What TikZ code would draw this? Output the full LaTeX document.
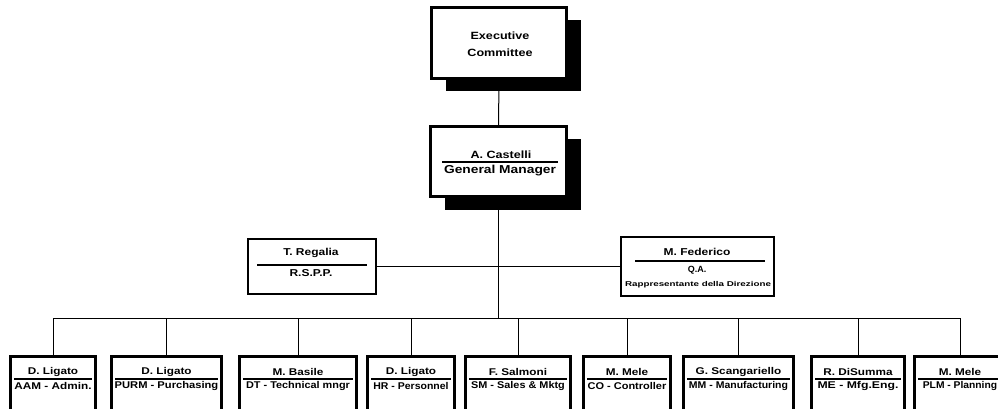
\documentclass[tikz,border=0pt]{standalone}
\usepackage{fontspec}
\setmainfont{Liberation Sans}
\usepackage{graphicx}
\usetikzlibrary{calc,shadows}
\newcommand\sx[2][1.2]{\scalebox{#1}[1]{#2}}
\newcommand\fs[1]{\fontsize{#1}{#1}\selectfont}
\tikzset{
  conn/.style={line width=1pt},
  div/.style={line width=1.2pt},
  lbl/.style={inner sep=0pt, font=\bfseries},
  shadowbox/.style={draw, fill=white, line width=3pt, inner sep=0pt,
    drop shadow={shadow xshift=14pt, shadow yshift=-13pt, fill=black, opacity=1}},
  sidebox/.style={draw, fill=white, line width=2pt, inner sep=0pt},
  unitbox/.style={draw, fill=white, line width=3pt, inner sep=0pt},
}
\newcommand\orgunit[6]{%
  \node[unitbox, minimum width={#3-#2-3}, minimum height=57.5] (#1) at ({(#2+#3)/2},385.25) {};
  \node[lbl] (#1n) at ($(#1.north)+(0,17)$) {\fs{9.8}\sx[1.2]{#4}};
  \draw[div] ($(#1.north west)+(5,24)$) -- ($(#1.north east)+(-5,24)$);
  \node[lbl] (#1r) at ($(#1.north)+(0,31)$) {\fs{9.8}\sx[#6]{#5}};
}
\begin{document}
\begin{tikzpicture}[x=1pt,y=-1pt]
\useasboundingbox (0,0) rectangle (998,409);
\fill[white] (0,0) rectangle (998,409);

% executive committee
\node[shadowbox, minimum width=135, minimum height=71] (exec) at (499,43) {};
\node[lbl] (exec1) at (500,36) {\fs{10.5}\sx{Executive}};
\node[lbl] (exec2) at (500,53) {\fs{10.5}\sx{Committee}};

% general manager
\node[shadowbox, line width=2.5pt, minimum width=136, minimum height=70] (gm) at (498.5,161.5) {};
\node[lbl] (gmn) at (501,155) {\fs{10.5}\sx{A. Castelli}};
\draw[div] ($(gm.west)+(13,0.5)$) -- ($(gm.east)+(-10,0.5)$);
\node[lbl] (gmr) at (500,171) {\fs{11.5}\sx{General Manager}};

% staff boxes
\node[sidebox, minimum width=128, minimum height=55] (reg) at (312,266.5) {};
\node[lbl] (regn) at (311,253) {\fs{10}\sx{T. Regalia}};
\draw[div] ($(reg.west)+(10,-1.5)$) -- ($(reg.east)+(-10,-1.5)$);
\node[lbl] (regr) at (311,273) {\fs{10}\sx{R.S.P.P.}};

\node[sidebox, minimum width=153, minimum height=59] (fed) at (697.5,266.5) {};
\node[lbl] (fedn) at (697,252) {\fs{10}\sx{M. Federico}};
\draw[div] ($(fed.west)+(15,-5.5)$) -- ($(fed.east)+(-10,-5.5)$);
\node[lbl] (fedr) at (697,270) {\fs{9}Q.A.};
\node[lbl] (fedd) at (698,285) {\fs{7}\sx[1.4]{Rappresentante della Direzione}};

% units
\orgunit{u1}{9}{97}{D. Ligato}{AAM - Admin.}{1.2}
\orgunit{u2}{110}{223}{D. Ligato}{PURM - Purchasing}{1.14}
\orgunit{u3}{238}{358}{M. Basile}{DT - Technical mngr}{1.11}
\orgunit{u4}{366}{456}{D. Ligato}{HR - Personnel}{1.07}
\orgunit{u5}{464}{572}{F. Salmoni}{SM - Sales \& Mktg}{1.11}
\orgunit{u6}{582}{672}{M. Mele}{CO - Controller}{1.12}
\orgunit{u7}{682}{795}{G. Scangariello}{MM - Manufacturing}{1.07}
\orgunit{u8}{810}{906}{R. DiSumma}{ME - Mfg.Eng.}{1.25}
\orgunit{u9}{913}{1007}{M. Mele}{PLM - Planning}{1.05}

% connectors
\coordinate (bus) at (500,318);
\draw[conn] (exec.south) -- (gm.north);
\draw[conn] (gm.south) -- (gm.south |- bus);
\draw[conn] (reg.east) -- (fed.west);
\draw[conn] (u1.north |- bus) -- (u9.north |- bus);
\foreach \i in {1,...,9} \draw[conn] (u\i.north) -- (u\i.north |- bus);
\end{tikzpicture}
\end{document}
